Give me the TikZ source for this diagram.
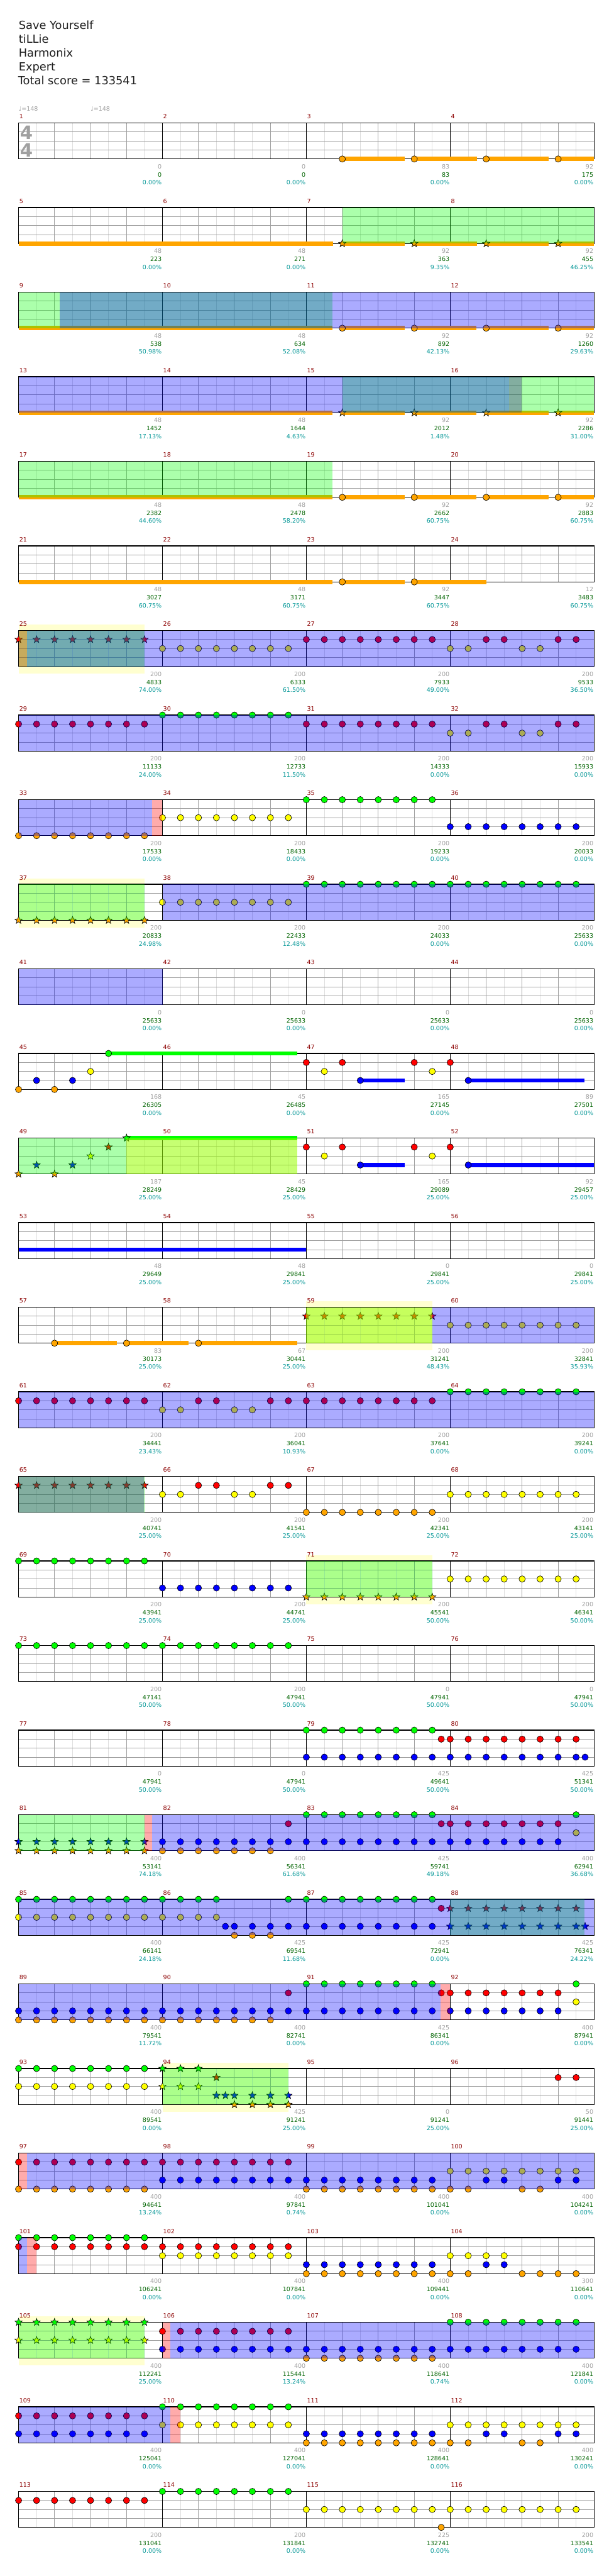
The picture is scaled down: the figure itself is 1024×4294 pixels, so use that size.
\documentclass[tikz,border=0pt]{standalone}
\usepackage{fontspec}
\setmainfont{DejaVu Sans}
\usepackage{tikz}
\definecolor{ngreen}{RGB}{0,255,0}
\definecolor{nred}{RGB}{255,0,0}
\definecolor{nyellow}{RGB}{255,255,0}
\definecolor{nblue}{RGB}{0,0,255}
\definecolor{norange}{RGB}{255,165,0}
\definecolor{numred}{RGB}{140,0,0}
\definecolor{txgray}{RGB}{160,160,160}
\definecolor{txgreen}{RGB}{0,100,0}
\definecolor{txcyan}{RGB}{0,150,150}
\definecolor{hlyellow}{RGB}{255,255,208}
\definecolor{gridlight}{RGB}{222,222,222}
\definecolor{gridmid}{RGB}{160,160,160}
\definecolor{oddmix}{RGB}{50,10,139}

% row r: staff top at 205+141r, beat b at 31+60b, lane l at +15l
\newcommand{\putnotes}[4]{%
  \foreach \bt in {#2} {\filldraw[notedot,fill=#4] ({31+60*\bt},{205+141*#1+15*#3}) circle (5.3);}}
\newcommand{\putstars}[4]{%
  \foreach \bt in {#2} {\filldraw[notedot,fill=#4] ({31+60*\bt},{205+141*#1+15*#3})
    +(-90:6.5) -- +(-54:2.7) -- +(-18:6.5) -- +(18:2.7) -- +(54:6.5) -- +(90:2.7)
    -- +(126:6.5) -- +(162:2.7) -- +(198:6.5) -- +(234:2.7) -- cycle;}}
\newcommand{\sust}[5]{\fill[#5] ({31+60*(#2)},{205+141*#1+15*#4-3.5}) rectangle ({31+60*(#3)},{205+141*#1+15*#4+3.5});}
\newcommand{\ovl}[4]{\fill[#4,fill opacity=0.33] ({31+60*(#2)},{205+141*#1}) rectangle ({31+60*(#3)},{265+141*#1});}
\newcommand{\hilite}[3]{\fill[hlyellow] ({31+60*(#2)},{195+141*#1}) rectangle ({31+60*(#3)},{277+141*#1});}

\begin{document}
\begin{tikzpicture}[x=0.75pt,y=-0.75pt,
  notedot/.style={draw=black,line width=0.5pt},
  halfline/.style={gridlight,line width=0.75pt},
  laneline/.style={gridmid,line width=0.75pt},
  beatline/.style={gridmid,line width=0.75pt},
  barline/.style={black,line width=0.75pt},
  staffbox/.style={black,line width=1pt},
  hdr/.style={font=\fontsize{14}{16}\selectfont,text=black!88,inner sep=0pt,anchor=base west},
  small/.style={font=\fontsize{7.5}{9}\selectfont,inner sep=0pt},
  numlbl/.style={small,text=numred,anchor=base west},
  grylbl/.style={small,text=txgray,anchor=base east},
  totlbl/.style={small,text=txgreen,anchor=base east},
  pctlbl/.style={small,text=txcyan,anchor=base east},
  timesig/.style={font=\fontsize{23}{24}\bfseries\selectfont,text=txgray,inner sep=0pt}]
\useasboundingbox[fill=white] (0,0) rectangle (1024,4294);

% header
\node[hdr] (title) at (31,49) {Save Yourself};
\node[hdr] (artist) at (31,72) {tiLLie};
\node[hdr] (charter) at (31,95) {Harmonix};
\node[hdr] (diff) at (31,118) {Expert};
\node[hdr] (score) at (30,141) {Total score = 133541};
\node[small,text=txgray,anchor=base west] (tempoa) at (31,185) {♩=148};
\node[small,text=txgray,anchor=base west] (tempob) at (151,185) {♩=148};

% yellow highlights
\hilite{6}{0}{3.5} \hilite{9}{0}{3.5} \hilite{14}{8}{11.5} \hilite{17}{8}{11.5}
\hilite{23}{4}{7.5} \hilite{26}{0}{3.5}

% staves
\foreach \r in {0,...,28} {
  \foreach \bt in {0.5,1.5,...,15.5}
    \draw[halfline] ({31+60*\bt},{205+141*\r}) -- ++(0,60);
  \foreach \ln in {1,2,3}
    \draw[laneline] (31,{205+141*\r+15*\ln}) -- ++(960,0);
  \foreach \bt in {1,2,3,5,6,7,9,10,11,13,14,15}
    \draw[beatline] ({31+60*\bt},{205+141*\r}) -- ++(0,60);
  \foreach \bt in {4,8,12}
    \draw[barline] ({31+60*\bt},{205+141*\r}) -- ++(0,60);
  \draw[staffbox] (31,{205+141*\r}) rectangle ++(960,60);
}
\node[timesig] (tstop) at (44,221) {4};
\node[timesig] (tsbot) at (44,250) {4};

% m1-4
\foreach \bt in {9,11,13} {\sust{0}{\bt}{\bt+1.74}{4}{norange}}
\sust{0}{15}{16}{4}{norange}
\putnotes{0}{9,11,13,15}{4}{norange}
% m5-8
\sust{1}{0}{8.74}{4}{norange}
\foreach \bt in {9,11,13} {\sust{1}{\bt}{\bt+1.74}{4}{norange}}
\sust{1}{15}{16}{4}{norange}
\putstars{1}{9,11,13,15}{4}{norange}
\ovl{1}{9}{16}{ngreen}
% m9-12
\sust{2}{0}{8.73}{4}{norange}
\foreach \bt in {9,11,13} {\sust{2}{\bt}{\bt+1.73}{4}{norange}}
\sust{2}{15}{16}{4}{norange}
\putnotes{2}{9,11,13,15}{4}{norange}
\ovl{2}{0}{8.73}{ngreen} \ovl{2}{1.14}{16}{nblue}
% m13-16
\sust{3}{0}{8.73}{4}{norange}
\foreach \bt in {9,11,13} {\sust{3}{\bt}{\bt+1.73}{4}{norange}}
\sust{3}{15}{16}{4}{norange}
\putstars{3}{9,11,13,15}{4}{norange}
\ovl{3}{9}{16}{ngreen} \ovl{3}{0}{13.63}{nblue} \ovl{3}{13.63}{13.98}{oddmix}
% m17-20
\sust{4}{0}{8.73}{4}{norange}
\foreach \bt in {9,11,13} {\sust{4}{\bt}{\bt+1.73}{4}{norange}}
\sust{4}{15}{16}{4}{norange}
\putnotes{4}{9,11,13,15}{4}{norange}
\ovl{4}{0}{8.73}{ngreen}
% m21-24
\sust{5}{0}{8.73}{4}{norange} \sust{5}{9}{10.73}{4}{norange} \sust{5}{11}{13}{4}{norange}
\putnotes{5}{9,11}{4}{norange}
% m25-28
\putstars{6}{0,0.5,...,3.5}{1}{nred}
\putnotes{6}{4,4.5,...,7.5}{2}{nyellow}
\putnotes{6}{8,8.5,...,11.5}{1}{nred}
\putnotes{6}{12,12.5,14,14.5}{2}{nyellow}
\putnotes{6}{13,13.5,15,15.5}{1}{nred}
\ovl{6}{0}{3.5}{ngreen} \ovl{6}{0}{0.23}{nred} \ovl{6}{0.23}{16}{nblue}
% m29-32
\putnotes{7}{0,0.5,...,3.5}{1}{nred}
\putnotes{7}{4,4.5,...,7.5}{0}{ngreen}
\putnotes{7}{8,8.5,...,11.5}{1}{nred}
\putnotes{7}{12,12.5,14,14.5}{2}{nyellow}
\putnotes{7}{13,13.5,15,15.5}{1}{nred}
\ovl{7}{0}{16}{nblue}
% m33-36
\putnotes{8}{0,0.5,...,3.5}{4}{norange}
\putnotes{8}{4,4.5,...,7.5}{2}{nyellow}
\putnotes{8}{8,8.5,...,11.5}{0}{ngreen}
\putnotes{8}{12,12.5,...,15.5}{3}{nblue}
\ovl{8}{0}{3.72}{nblue} \ovl{8}{3.72}{3.99}{nred}
% m37-40
\putstars{9}{0,0.5,...,3.5}{4}{norange}
\putnotes{9}{4,4.5,...,7.5}{2}{nyellow}
\putnotes{9}{8,8.5,...,15.5}{0}{ngreen}
\ovl{9}{0}{3.5}{ngreen} \ovl{9}{4}{16}{nblue}
% m41-44
\ovl{10}{0}{4}{nblue}
% m45-48
\sust{11}{2.5}{7.74}{0}{ngreen} \sust{11}{9.5}{10.73}{3}{nblue} \sust{11}{12.5}{15.74}{3}{nblue}
\putnotes{11}{0,1}{4}{norange}
\putnotes{11}{0.5,1.5,9.5,12.5}{3}{nblue}
\putnotes{11}{2,8.5,11.5}{2}{nyellow}
\putnotes{11}{2.5}{0}{ngreen}
\putnotes{11}{8,9,11,12}{1}{nred}
% m49-52
\sust{12}{3}{7.74}{0}{ngreen} \sust{12}{9.5}{10.73}{3}{nblue} \sust{12}{12.5}{16}{3}{nblue}
\putstars{12}{0,1}{4}{norange}
\putstars{12}{0.5,1.5}{3}{nblue}
\putstars{12}{2}{2}{nyellow}
\putstars{12}{2.5}{1}{nred}
\putstars{12}{3}{0}{ngreen}
\putnotes{12}{8,9,11,12}{1}{nred}
\putnotes{12}{8.5,11.5}{2}{nyellow}
\putnotes{12}{9.5,12.5}{3}{nblue}
\ovl{12}{0}{7.74}{ngreen} \ovl{12}{3}{7.74}{nyellow}
% m53-56
\sust{13}{0}{8}{3}{nblue}
% m57-60
\sust{14}{1}{2.73}{4}{norange} \sust{14}{3}{4.73}{4}{norange} \sust{14}{5}{7.74}{4}{norange}
\putnotes{14}{1,3,5}{4}{norange}
\putstars{14}{8,8.5,...,11.5}{1}{nred}
\putnotes{14}{12,12.5,...,15.5}{2}{nyellow}
\ovl{14}{8}{11.5}{ngreen} \ovl{14}{8}{11.5}{nyellow} \ovl{14}{11.5}{16}{nblue}
% m61-64
\putnotes{15}{0,0.5,...,3.5}{1}{nred}
\putnotes{15}{4,4.5,6,6.5}{2}{nyellow}
\putnotes{15}{5,5.5,7,7.5}{1}{nred}
\putnotes{15}{8,8.5,...,11.5}{1}{nred}
\putnotes{15}{12,12.5,...,15.5}{0}{ngreen}
\ovl{15}{0}{16}{nblue}
% m65-68
\putstars{16}{0,0.5,...,3.5}{1}{nred}
\putnotes{16}{4,4.5,6,6.5}{2}{nyellow}
\putnotes{16}{5,5.5,7,7.5}{1}{nred}
\putnotes{16}{8,8.5,...,11.5}{4}{norange}
\putnotes{16}{12,12.5,...,15.5}{2}{nyellow}
\ovl{16}{0}{3.5}{ngreen} \ovl{16}{0}{3.48}{oddmix}
% m69-72
\putnotes{17}{0,0.5,...,3.5}{0}{ngreen}
\putnotes{17}{4,4.5,...,7.5}{3}{nblue}
\putstars{17}{8,8.5,...,11.5}{4}{norange}
\putnotes{17}{12,12.5,...,15.5}{2}{nyellow}
\ovl{17}{8}{11.5}{ngreen}
% m73-76
\putnotes{18}{0,0.5,...,7.5}{0}{ngreen}
% m77-80
\putnotes{19}{8,8.5,...,11.5}{0}{ngreen}
\putnotes{19}{8,8.5,...,15.5}{3}{nblue}
\putnotes{19}{15.75}{3}{nblue}
\putnotes{19}{11.75,12,12.5,...,15.5}{1}{nred}
% m81-84
\putstars{20}{0,0.5,...,3.5}{3}{nblue}
\putstars{20}{0,0.5,...,3.5}{4}{norange}
\putnotes{20}{4,4.5,...,15}{3}{nblue}
\putnotes{20}{4,4.5,...,7}{4}{norange}
\putnotes{20}{7.5,11.75,12,12.5,...,15}{1}{nred}
\putnotes{20}{8,8.5,...,11.5,15.5}{0}{ngreen}
\putnotes{20}{15.5}{2}{nyellow}
\ovl{20}{0}{3.5}{ngreen} \ovl{20}{3.5}{3.72}{nred} \ovl{20}{3.72}{16}{nblue}
% m85-88
\putnotes{21}{0,0.5,...,5.5}{0}{ngreen}
\putnotes{21}{7.5,8,...,11.5}{0}{ngreen}
\putnotes{21}{0,0.5,...,5.5}{2}{nyellow}
\putnotes{21}{5.75,6,6.5,...,11.5}{3}{nblue}
\putnotes{21}{6,6.5,7}{4}{norange}
\putnotes{21}{11.75}{1}{nred}
\putstars{21}{12,12.5,...,15.5}{1}{nred}
\putstars{21}{12,12.5,...,15.5}{3}{nblue}
\putstars{21}{15.75}{3}{nblue}
\ovl{21}{12}{15.74}{ngreen} \ovl{21}{0}{16}{nblue}
% m89-92
\putnotes{22}{0,0.5,...,15}{3}{nblue}
\putnotes{22}{0,0.5,...,7}{4}{norange}
\putnotes{22}{7.5,11.75,12,12.5,...,15}{1}{nred}
\putnotes{22}{8,8.5,...,11.5,15.5}{0}{ngreen}
\putnotes{22}{15.5}{2}{nyellow}
\ovl{22}{0}{11.74}{nblue} \ovl{22}{11.74}{12}{nred}
% m93-96
\putnotes{23}{0,0.5,...,3.5}{0}{ngreen}
\putnotes{23}{0,0.5,...,3.5}{2}{nyellow}
\putstars{23}{4,4.5,5}{0}{ngreen}
\putstars{23}{4,4.5,5}{2}{nyellow}
\putstars{23}{5.5}{1}{nred}
\putstars{23}{5.5,5.75,6,6.5,7,7.5}{3}{nblue}
\putstars{23}{6,6.5,7,7.5}{4}{norange}
\putnotes{23}{15,15.5}{1}{nred}
\ovl{23}{4}{7.5}{ngreen}
% m97-100
\putnotes{24}{0,0.5,...,7.5}{1}{nred}
\putnotes{24}{0,0.5,...,3.5}{4}{norange}
\putnotes{24}{4,4.5,...,11.5}{3}{nblue}
\putnotes{24}{8,8.5,...,11.5}{4}{norange}
\putnotes{24}{12,12.5,...,15.5}{2}{nyellow}
\putnotes{24}{13,13.5,15,15.5}{3}{nblue}
\putnotes{24}{12,12.5,14,14.5}{4}{norange}
\ovl{24}{0}{0.24}{nred} \ovl{24}{0.24}{16}{nblue}
% m101-104
\putnotes{25}{0,0.5,...,3.5}{0}{ngreen}
\putnotes{25}{0,0.5,...,7.5}{1}{nred}
\putnotes{25}{4,4.5,...,7.5}{2}{nyellow}
\putnotes{25}{8,8.5,...,11.5}{3}{nblue}
\putnotes{25}{8,8.5,...,11.5}{4}{norange}
\putnotes{25}{12,12.5,13,13.5}{2}{nyellow}
\putnotes{25}{13,13.5}{3}{nblue}
\putnotes{25}{12,12.5,14,14.5,15,15.5}{4}{norange}
\ovl{25}{0}{0.24}{nblue} \ovl{25}{0.24}{0.5}{nred}
% m105-108
\putstars{26}{0,0.5,...,3.5}{0}{ngreen}
\putstars{26}{0,0.5,...,3.5}{2}{nyellow}
\putnotes{26}{4,4.5,...,7.5}{1}{nred}
\putnotes{26}{4,4.5,...,15.5}{3}{nblue}
\putnotes{26}{8,8.5,...,11.5}{4}{norange}
\putnotes{26}{12,12.5,...,15.5}{0}{ngreen}
\ovl{26}{0}{3.5}{ngreen} \ovl{26}{4}{4.22}{nred} \ovl{26}{4.22}{16}{nblue}
% m109-112
\putnotes{27}{0,0.5,...,3.5}{1}{nred}
\putnotes{27}{0,0.5,...,3.5}{3}{nblue}
\putnotes{27}{4,4.5,...,7.5}{0}{ngreen}
\putnotes{27}{4,4.5,...,7.5}{2}{nyellow}
\putnotes{27}{8,8.5,...,11.5}{3}{nblue}
\putnotes{27}{8,8.5,...,11.5}{4}{norange}
\putnotes{27}{12,12.5,...,15.5}{2}{nyellow}
\putnotes{27}{13,13.5,15,15.5}{3}{nblue}
\putnotes{27}{12,12.5,14,14.5}{4}{norange}
\ovl{27}{0}{4.22}{nblue} \ovl{27}{4.22}{4.5}{nred}
% m113-116
\putnotes{28}{0,0.5,...,3.5}{1}{nred}
\putnotes{28}{4,4.5,...,7.5}{0}{ngreen}
\putnotes{28}{8,8.5,...,15.5}{2}{nyellow}
\putnotes{28}{11.75}{4}{norange}

% measure labels
\foreach \m/\g/\s/\p in {1/0/0/0.00,2/0/0/0.00,3/83/83/0.00,4/92/175/0.00,
  5/48/223/0.00,6/48/271/0.00,7/92/363/9.35,8/92/455/46.25,
  9/48/538/50.98,10/48/634/52.08,11/92/892/42.13,12/92/1260/29.63,
  13/48/1452/17.13,14/48/1644/4.63,15/92/2012/1.48,16/92/2286/31.00,
  17/48/2382/44.60,18/48/2478/58.20,19/92/2662/60.75,20/92/2883/60.75,
  21/48/3027/60.75,22/48/3171/60.75,23/92/3447/60.75,24/12/3483/60.75,
  25/200/4833/74.00,26/200/6333/61.50,27/200/7933/49.00,28/200/9533/36.50,
  29/200/11133/24.00,30/200/12733/11.50,31/200/14333/0.00,32/200/15933/0.00,
  33/200/17533/0.00,34/200/18433/0.00,35/200/19233/0.00,36/200/20033/0.00,
  37/200/20833/24.98,38/200/22433/12.48,39/200/24033/0.00,40/200/25633/0.00,
  41/0/25633/0.00,42/0/25633/0.00,43/0/25633/0.00,44/0/25633/0.00,
  45/168/26305/0.00,46/45/26485/0.00,47/165/27145/0.00,48/89/27501/0.00,
  49/187/28249/25.00,50/45/28429/25.00,51/165/29089/25.00,52/92/29457/25.00,
  53/48/29649/25.00,54/48/29841/25.00,55/0/29841/25.00,56/0/29841/25.00,
  57/83/30173/25.00,58/67/30441/25.00,59/200/31241/48.43,60/200/32841/35.93,
  61/200/34441/23.43,62/200/36041/10.93,63/200/37641/0.00,64/200/39241/0.00,
  65/200/40741/25.00,66/200/41541/25.00,67/200/42341/25.00,68/200/43141/25.00,
  69/200/43941/25.00,70/200/44741/25.00,71/200/45541/50.00,72/200/46341/50.00,
  73/200/47141/50.00,74/200/47941/50.00,75/0/47941/50.00,76/0/47941/50.00,
  77/0/47941/50.00,78/0/47941/50.00,79/425/49641/50.00,80/425/51341/50.00,
  81/400/53141/74.18,82/400/56341/61.68,83/425/59741/49.18,84/400/62941/36.68,
  85/400/66141/24.18,86/425/69541/11.68,87/425/72941/0.00,88/425/76341/24.22,
  89/400/79541/11.72,90/400/82741/0.00,91/425/86341/0.00,92/400/87941/0.00,
  93/400/89541/0.00,94/425/91241/25.00,95/0/91241/25.00,96/50/91441/25.00,
  97/400/94641/13.24,98/400/97841/0.74,99/400/101041/0.00,100/400/104241/0.00,
  101/400/106241/0.00,102/400/107841/0.00,103/400/109441/0.00,104/300/110641/0.00,
  105/400/112241/25.00,106/400/115441/13.24,107/400/118641/0.74,108/400/121841/0.00,
  109/400/125041/0.00,110/400/127041/0.00,111/400/128641/0.00,112/400/130241/0.00,
  113/200/131041/0.00,114/200/131841/0.00,115/225/132741/0.00,116/200/133541/0.00} {
  \pgfmathtruncatemacro\rr{(\m-1)/4}
  \pgfmathtruncatemacro\cc{\m-1-4*\rr}
  \node[numlbl] (num\m) at ({32+240*\cc},{198+141*\rr}) {\m};
  \node[grylbl] (gry\m) at ({270+240*\cc},{281+141*\rr}) {\g};
  \node[totlbl] (tot\m) at ({270+240*\cc},{295+141*\rr}) {\s};
  \node[pctlbl] (pct\m) at ({270+240*\cc},{308+141*\rr}) {\p\%};
}
\end{tikzpicture}
\end{document}
